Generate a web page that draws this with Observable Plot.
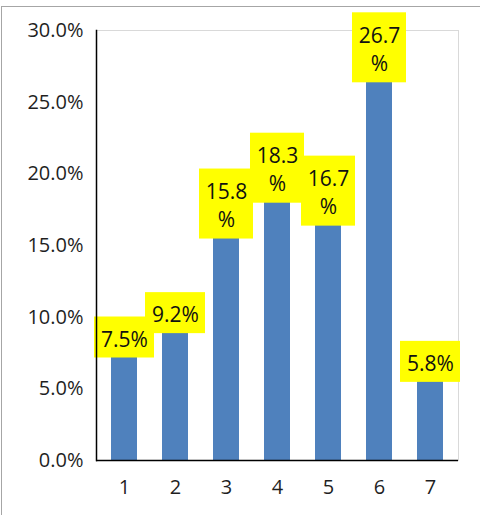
<!DOCTYPE html>
<html>
<head>
<meta charset="utf-8">
<script src="https://cdn.jsdelivr.net/npm/d3@7"></script>
<script src="https://cdn.jsdelivr.net/npm/@observablehq/plot@0.6"></script>
<style>
  html, body { margin: 0; padding: 0; background: #fff; }
  #wrap { position: relative; width: 480px; height: 515px; }
  #outer { position: absolute; left: 1px; top: 6px; width: 480px; height: 515px;
           border-top: 1.5px solid #a6a6a6; border-left: 1.5px solid #a6a6a6; pointer-events: none; }
  svg { display: block; }
</style>
</head>
<body>
<div id="wrap"><div id="outer"></div></div>
<script>
const categories = ["1", "2", "3", "4", "5", "6", "7"];
const values = [7.5, 9.2, 15.8, 18.3, 16.7, 26.7, 5.8];
const yTicks = [0, 5, 10, 15, 20, 25, 30];

const W = 480, H = 515;
const mTop = 30, mBottom = 55, mLeft = 96, mRight = 22;
const k = 30 / (H - mTop - mBottom); // data units per pixel

const data = categories.map((c, i) => {
  const v = values[i];
  const wrap = v >= 10;
  const h = wrap ? 70 : 41;
  const y1 = v - 5 * k;
  const y2 = y1 + h * k;
  const label = wrap ? v.toFixed(1) + "\n%" : v.toFixed(1) + "%";
  return {cat: c, v, wrap, y1, y2, yc: (y1 + y2) / 2, label};
});

const chart = Plot.plot({
  width: W,
  height: H,
  marginTop: mTop,
  marginBottom: mBottom,
  marginLeft: mLeft,
  marginRight: mRight,
  style: {fontFamily: "'Open Sans', sans-serif", color: "#1f1f1f", background: "transparent"},
  x: {domain: categories, paddingInner: 0.5, paddingOuter: 0.25, label: null},
  y: {domain: [0, 30], label: null},
  marks: [
    Plot.frame({stroke: "#d9d9d9"}),
    Plot.barY(data, {x: "cat", y: "v", fill: "#4f81bd"}),
    Plot.barY(data.filter(d => !d.wrap), {x: "cat", y1: "y1", y2: "y2", fill: "#ffff00", insetLeft: -17, insetRight: -17}),
    Plot.barY(data.filter(d => d.wrap), {x: "cat", y1: "y1", y2: "y2", fill: "#ffff00", insetLeft: -14, insetRight: -14}),
    Plot.text(data, {x: "cat", y: "yc", text: "label", fontSize: 21, lineHeight: 1.35, lineAnchor: "middle", fill: "#111"}),
    Plot.axisY({ticks: yTicks, tickSize: 0, tickPadding: 13, fontSize: 20, tickFormat: d => d.toFixed(1) + "%"}),
    Plot.axisX({tickSize: 0, tickPadding: 19, fontSize: 20}),
    Plot.frame({anchor: "left", stroke: "#000", strokeWidth: 1.5}),
    Plot.ruleY([0], {stroke: "#000", strokeWidth: 1.5})
  ]
});
document.getElementById("wrap").prepend(chart);
</script>
</body>
</html>
